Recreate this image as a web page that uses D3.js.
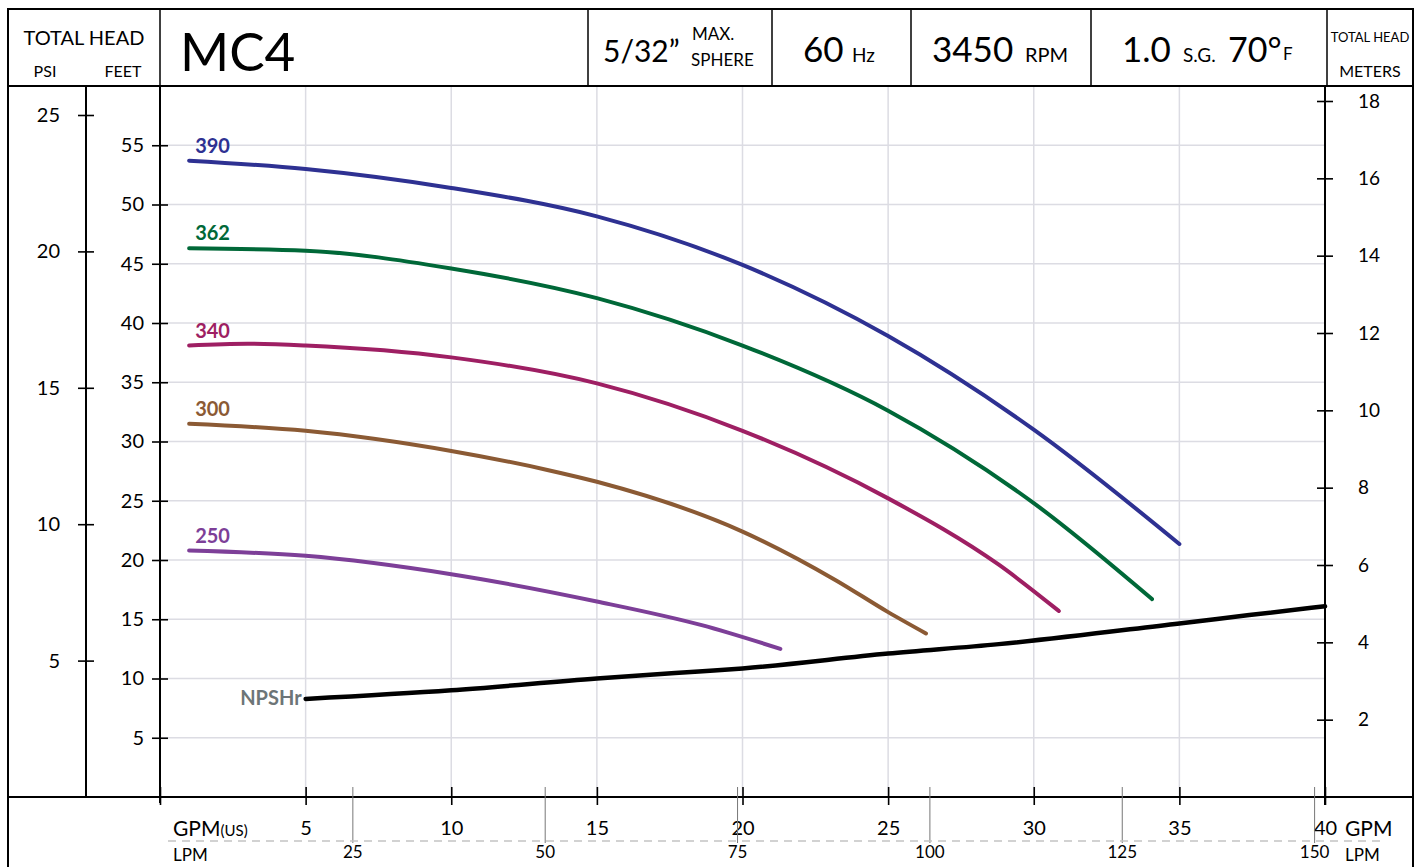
<!DOCTYPE html>
<html><head><meta charset="utf-8">
<script src="https://cdn.jsdelivr.net/npm/d3@7"></script>
<style>body{margin:0;background:#fff}svg{display:block}text{font-family:Lato,"Open Sans",sans-serif}</style>
</head><body>
<svg id="c" width="1424" height="867"></svg>
<script>
// ---- data ----
const gpmTicks = [5,10,15,20,25,30,35,40];
const lpmTicks = [25,50,75,100,125,150];
const feetTicks = [5,10,15,20,25,30,35,40,45,50,55];
const psiTicks = [5,10,15,20,25];
const meterTicks = [2,4,6,8,10,12,14,16,18];

const curveNames = ["390","362","340","300","250"];
const curveColors = ["#2e3192","#006838","#9e1f63","#8b5a34","#7d3f98"];
const gpm390 = [1.0,5,10,15,20,25,30,35];
const ft390  = [53.7,53.0,51.4,49.0,44.9,38.9,31.0,21.35];
const gpm362 = [1.0,5,10,15,20,25,30,34.06];
const ft362  = [46.3,46.1,44.6,42.1,38.1,32.6,24.8,16.7];
const gpm340 = [1.0,3,5,10,15,20,25,28.8,30.86];
const ft340  = [38.1,38.25,38.1,37.1,34.9,30.9,25.2,19.6,15.7];
const gpm300 = [1.0,5,10,13.3,15,20,23.2,25,26.3];
const ft300  = [31.5,30.9,29.2,27.6,26.6,22.4,18.3,15.6,13.8];
const gpm250 = [1.0,5,10,15,18.6,21.3];
const ft250  = [20.8,20.35,18.8,16.5,14.5,12.5];
const gpmNPSH = [5,10,15,18.5,20,25,28.8,35,37.4,40];
const ftNPSH  = [8.27,9.0,10.0,10.6,10.85,12.1,12.9,14.65,15.35,16.1];

const seriesGpm = [gpm390,gpm362,gpm340,gpm300,gpm250];
const seriesFt = [ft390,ft362,ft340,ft300,ft250];

// ---- scales ----
const svg = d3.select("#c");
const x = d3.scaleLinear().domain([0,40]).range([160,1325]);
const xL = d3.scaleLinear().domain([0,40*3.7854]).range([160,1325]);
const y = d3.scaleLinear().domain([0,60]).range([797,86]);
const yPsi = d3.scaleLinear().domain([0,25]).range([797,115]);
const yM = d3.scaleLinear().domain([0,18]).range([797,101]);

// grid
const grid = svg.append("g").attr("stroke","#dcdce3").attr("stroke-width",1.5);
feetTicks.forEach(t=>grid.append("line").attr("x1",160).attr("x2",1325).attr("y1",y(t)).attr("y2",y(t)));
gpmTicks.filter(t=>t<40).forEach(t=>grid.append("line").attr("x1",x(t)).attr("x2",x(t)).attr("y1",86).attr("y2",797));

// frame
const fr = svg.append("g").attr("stroke","#000").attr("fill","none");
fr.append("rect").attr("x",8).attr("y",9).attr("width",1405).attr("height",77).attr("stroke-width",2);
[160,588,772,911,1091,1327].forEach(px=>fr.append("line").attr("x1",px).attr("x2",px).attr("y1",9).attr("y2",86).attr("stroke-width",1.5));
fr.append("line").attr("x1",8).attr("x2",8).attr("y1",9).attr("y2",867).attr("stroke-width",2);
fr.append("line").attr("x1",1413).attr("x2",1413).attr("y1",9).attr("y2",867).attr("stroke-width",2);
fr.append("line").attr("x1",8).attr("x2",1413).attr("y1",797).attr("y2",797).attr("stroke-width",2);
fr.append("line").attr("x1",86).attr("x2",86).attr("y1",86).attr("y2",797).attr("stroke-width",2);
fr.append("line").attr("x1",160).attr("x2",160).attr("y1",86).attr("y2",803).attr("stroke-width",2);
fr.append("line").attr("x1",1325).attr("x2",1325).attr("y1",86).attr("y2",805).attr("stroke-width",2);

// axes
function styleAxis(g){g.select(".domain").remove();g.selectAll(".tick line").attr("stroke","#000").attr("stroke-width",1.6);g.selectAll(".tick text").attr("fill","#000").style("font-family","Lato, 'Open Sans', sans-serif");}
svg.append("g").attr("transform","translate(168,0)")
  .call(d3.axisLeft(y).tickValues(feetTicks).tickSize(16).tickPadding(8))
  .call(styleAxis).call(g=>g.selectAll(".tick text").style("font-size","20px"));
svg.append("g").attr("transform","translate(94,0)")
  .call(d3.axisLeft(yPsi).tickValues(psiTicks).tickSize(16).tickPadding(18))
  .call(styleAxis).call(g=>g.selectAll(".tick text").style("font-size","20px"));
svg.append("g").attr("transform","translate(1317,0)")
  .call(d3.axisRight(yM).tickValues(meterTicks).tickSize(16).tickPadding(25))
  .call(styleAxis).call(g=>g.selectAll(".tick text").style("font-size","19px"));
svg.append("g").attr("transform","translate(0,787)")
  .call(d3.axisBottom(x).tickValues([0].concat(gpmTicks)).tickSize(18).tickFormat(d=>d===0?"":d).tickPadding(14))
  .call(styleAxis).call(g=>g.selectAll(".tick text").style("font-size","20px").attr("dy","0.82em"));
// LPM
svg.append("g").attr("transform","translate(0,787)")
  .call(d3.axisBottom(xL).tickValues(lpmTicks).tickSize(56).tickPadding(3))
  .call(styleAxis).call(g=>{g.selectAll(".tick line").attr("stroke","#777").attr("stroke-width",1);g.selectAll(".tick text").style("font-size","17px");});
svg.append("line").attr("x1",168).attr("x2",1382).attr("y1",841).attr("y2",841)
  .attr("stroke","#c4c4c4").attr("stroke-width",1.5).attr("stroke-dasharray","8,6");

// axis unit labels
const T=(px,py,s,size,opt={})=>{const t=svg.append("text").attr("x",px).attr("y",py).text(s).style("font-size",size+"px").attr("fill",opt.fill||"#000");if(opt.anchor)t.attr("text-anchor",opt.anchor);if(opt.weight)t.style("font-weight",opt.weight);return t;};
const g1=T(173,836,"GPM",21); g1.append("tspan").text("(US)").style("font-size","15px");
T(173,861,"LPM",17);
T(1345,836,"GPM",21);
T(1345,861,"LPM",17);

// header text
T(84,45,"TOTAL HEAD",20,{anchor:"middle"});
T(45,77,"PSI",16,{anchor:"middle"});
T(123,77,"FEET",16,{anchor:"middle"});
T(180,71,"MC4",53);
T(603,62,"5/32\u201D",30);
T(692,40,"MAX.",17);
T(691,66,"SPHERE",17);
T(803,62,"60",35);
T(852,62,"Hz",19);
T(932,62,"3450",35);
T(1025,62,"RPM",20);
T(1122,62,"1.0",35);
T(1183,62,"S.G.",19);
T(1228,62,"70\u00B0",34);
T(1283,60,"F",17);
T(1370,42,"TOTAL HEAD",13,{anchor:"middle"});
T(1370,77,"METERS",16,{anchor:"middle"});

// curves
const line = d3.line().x(d=>x(d[0])).y(d=>y(d[1])).curve(d3.curveMonotoneX);
seriesGpm.forEach((gs,i)=>{
  const pts = gs.map((g,j)=>[g,seriesFt[i][j]]);
  svg.append("path").attr("d",line(pts)).attr("fill","none").attr("stroke",curveColors[i])
    .attr("stroke-width",4).attr("stroke-linecap","round");
  T(x(gs[0])+6,y(seriesFt[i][0])-8,curveNames[i],20,{fill:curveColors[i],weight:"bold"});
});
const npts = gpmNPSH.map((g,j)=>[g,ftNPSH[j]]);
svg.append("path").attr("d",line(npts)).attr("fill","none").attr("stroke","#000")
  .attr("stroke-width",4.5).attr("stroke-linecap","round");
T(x(gpmNPSH[0])-4,y(ftNPSH[0])+6,"NPSHr",20,{fill:"#6d7577",weight:"bold",anchor:"end"});
</script>
</body></html>
